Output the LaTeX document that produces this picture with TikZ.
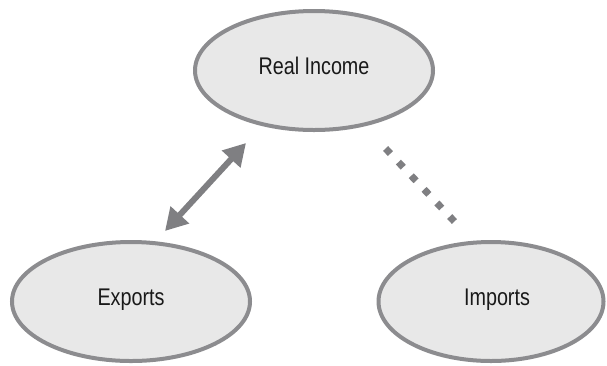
\documentclass[tikz,border=0pt]{standalone}
\usepackage{fontspec}
\setmainfont{Liberation Sans}[FakeStretch=0.82]
\usetikzlibrary{shapes.geometric,arrows.meta}

\definecolor{rimgray}{HTML}{8C8C8F}
\definecolor{fillgray}{HTML}{E8E8E8}
\definecolor{linkgray}{HTML}{7F7F82}

\begin{document}
\begin{tikzpicture}[x=1pt, y=-1pt, node distance=360pt,
                    main node/.style={ellipse, draw=rimgray, fill=fillgray, line width=4pt,
                      inner sep=0pt, minimum width=238pt, minimum height=119pt,
                      text height=0.716em, text depth=0pt,
                      font=\fontsize{24.1}{28}\selectfont, text=black!90}]

  \useasboundingbox (0,0) rectangle (607,365);

  \node[main node] (real) at (314,70.5) {Real Income};
  \node[main node] (exports) at (131,301.5) {Exports};
  \node[main node, minimum width=225pt] (imports) [right of=exports] {\hspace*{12pt}Imports};

  % ends of the two links
  \coordinate (expTip) at (165,231);
  \coordinate (realTip) at (246,143);
  \coordinate (impEnd) at (454.4,221.5);
  \coordinate (realEnd) at (385.6,148.5);

  \draw[linkgray, line width=6pt,
        {Triangle[length=22pt, width=24pt]}-{Triangle[length=22pt, width=24pt]}]
    (expTip) -- (realTip);

  \draw[linkgray, line width=7pt, dash pattern=on 7pt off 11.7pt]
    (realEnd) -- (impEnd);

\end{tikzpicture}
\end{document}
